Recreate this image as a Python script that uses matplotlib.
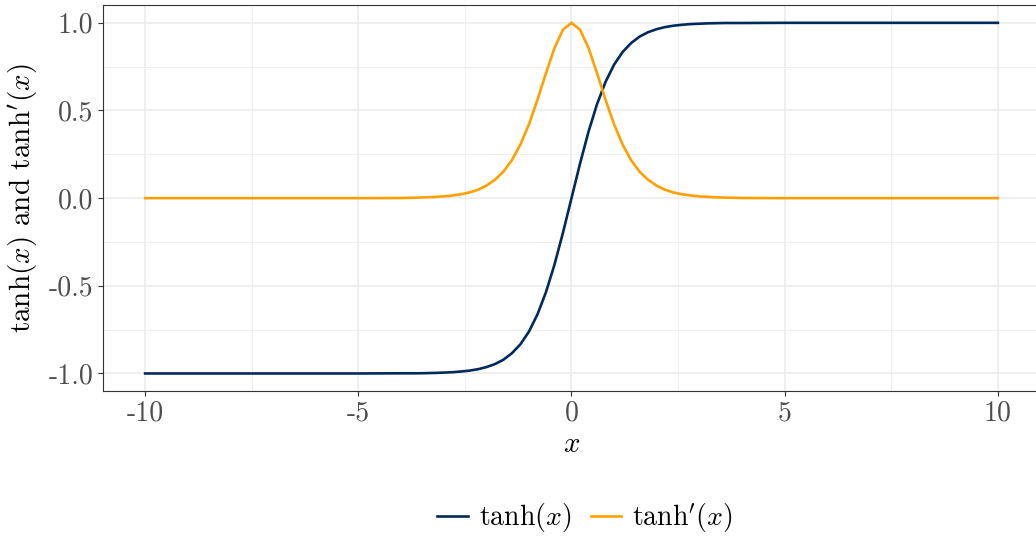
import matplotlib
matplotlib.use('Agg')
import matplotlib.pyplot as plt

plt.rcParams['font.family'] = 'serif'
plt.rcParams['font.serif'] = ['cmr10']
plt.rcParams['mathtext.fontset'] = 'cm'
plt.rcParams['axes.unicode_minus'] = False
plt.rcParams['axes.formatter.use_mathtext'] = True

# values (x step 0.2 near the centre)
x_vals = [-10, -8, -6, -5, -4, -3.6, -3.2, -3.0, -2.8, -2.6, -2.4, -2.2, -2.0,
          -1.8, -1.6, -1.4, -1.2, -1.0, -0.8, -0.6, -0.4, -0.2, 0.0,
          0.2, 0.4, 0.6, 0.8, 1.0, 1.2, 1.4, 1.6, 1.8, 2.0, 2.2, 2.4, 2.6,
          2.8, 3.0, 3.2, 3.6, 4, 5, 6, 8, 10]
tanh_vals = [-1.0, -1.0, -1.0, -1.0, -0.999, -0.999, -0.997, -0.995, -0.993,
             -0.989, -0.984, -0.976, -0.964, -0.947, -0.922, -0.885, -0.834,
             -0.762, -0.664, -0.537, -0.380, -0.197, 0.0,
             0.197, 0.380, 0.537, 0.664, 0.762, 0.834, 0.885, 0.922, 0.947,
             0.964, 0.976, 0.984, 0.989, 0.993, 0.995, 0.997, 0.999, 0.999,
             1.0, 1.0, 1.0, 1.0]
dtanh_vals = [0.0, 0.0, 0.0, 0.0, 0.001, 0.003, 0.007, 0.010, 0.015, 0.022,
              0.032, 0.047, 0.071, 0.104, 0.150, 0.216, 0.305, 0.420, 0.560,
              0.712, 0.856, 0.961, 1.0,
              0.961, 0.856, 0.712, 0.560, 0.420, 0.305, 0.216, 0.150, 0.104,
              0.071, 0.047, 0.032, 0.022, 0.015, 0.010, 0.007, 0.003, 0.001,
              0.0, 0.0, 0.0, 0.0]

x_ticks = [-10, -5, 0, 5, 10]
x_labels = ['-10', '-5', '0', '5', '10']
y_ticks = [-1.0, -0.5, 0.0, 0.5, 1.0]
y_labels = ['-1.0', '-0.5', '0.0', '0.5', '1.0']

navy = '#002a5c'
orange = '#ffa000'
W, H = 1036, 536

fig = plt.figure(figsize=(W / 100, H / 100), dpi=100)
ax = fig.add_axes([102.5 / W, 1 - 391 / H, 938 / W, (391 - 5.3) / H])

ax.plot(x_vals, tanh_vals, color=navy, lw=1.9, label=r'$\mathrm{tanh}(x)$')
ax.plot(x_vals, dtanh_vals, color=orange, lw=1.9, label=r"$\mathrm{tanh}'(x)$")

ax.set_xlim(-11, 11)
ax.set_ylim(-1.1, 1.1)
ax.set_xticks(x_ticks)
ax.set_xticklabels(x_labels)
ax.set_yticks(y_ticks)
ax.set_yticklabels(y_labels)
ax.set_xticks([-7.5, -2.5, 2.5, 7.5], minor=True)
ax.set_yticks([-0.75, -0.25, 0.25, 0.75], minor=True)
ax.grid(which='major', color='#ebebeb', lw=1.1)
ax.grid(which='minor', color='#ebebeb', lw=0.55)
ax.set_axisbelow(True)
ax.tick_params(which='major', length=3.5, width=0.8, color='#333333',
               labelcolor='#4d4d4d', labelsize=20, pad=3)
ax.tick_params(which='minor', length=0)
for s in ax.spines.values():
    s.set_color('#333333')
    s.set_linewidth(0.8)

ax.set_xlabel(r'$x$', fontsize=21, labelpad=4)
ax.set_ylabel(r"$\mathrm{tanh}(x)$ and $\mathrm{tanh}'(x)$", fontsize=21,
              labelpad=6)

fig.legend(loc='center', bbox_to_anchor=(585 / W, 1 - 518 / H), ncol=2,
           frameon=False, fontsize=20, handlelength=1.1, handletextpad=0.4,
           columnspacing=0.7)

fig.savefig('out.png', dpi=100)
